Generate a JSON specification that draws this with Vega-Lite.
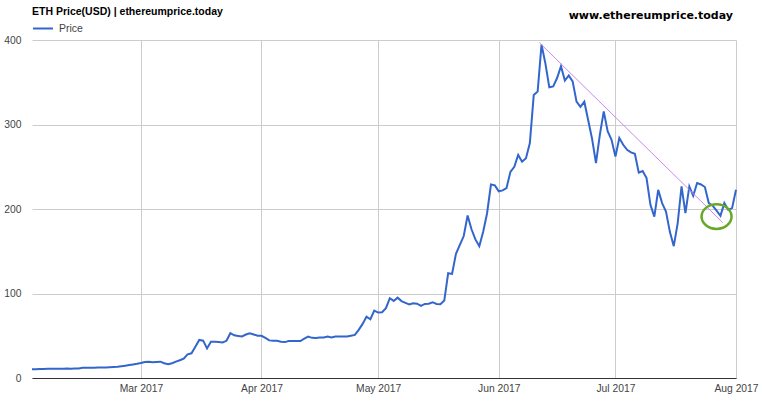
{
  "$schema": "https://vega.github.io/schema/vega-lite/v6.json",
  "width": 704,
  "height": 338,
  "autosize": "none",
  "padding": {"left": 32, "top": 40, "right": 26, "bottom": 24},
  "background": "white",
  "config": {"view": {"stroke": null}, "font": "Liberation Sans"},
  "title": {
    "text": "www.ethereumprice.today",
    "anchor": "end",
    "frame": "group",
    "baseline": "alphabetic",
    "offset": 0,
    "dy": 23,
    "dx": -3,
    "font": "DejaVu Sans",
    "fontSize": 11,
    "fontWeight": "bold",
    "color": "#000000"
  },
  "datasets": {
    "eth": [
      {"date": "2017-02-01", "price": 10.3},
      {"date": "2017-02-02", "price": 10.5},
      {"date": "2017-02-03", "price": 10.6},
      {"date": "2017-02-04", "price": 10.7},
      {"date": "2017-02-05", "price": 10.8},
      {"date": "2017-02-06", "price": 10.9},
      {"date": "2017-02-07", "price": 11.0},
      {"date": "2017-02-08", "price": 11.0},
      {"date": "2017-02-09", "price": 11.0},
      {"date": "2017-02-10", "price": 11.1},
      {"date": "2017-02-11", "price": 11.0},
      {"date": "2017-02-12", "price": 11.1},
      {"date": "2017-02-13", "price": 11.2},
      {"date": "2017-02-14", "price": 12.0},
      {"date": "2017-02-15", "price": 12.1},
      {"date": "2017-02-16", "price": 12.2},
      {"date": "2017-02-17", "price": 12.2},
      {"date": "2017-02-18", "price": 12.3},
      {"date": "2017-02-19", "price": 12.3},
      {"date": "2017-02-20", "price": 12.5},
      {"date": "2017-02-21", "price": 12.7},
      {"date": "2017-02-22", "price": 13.0},
      {"date": "2017-02-23", "price": 13.4},
      {"date": "2017-02-24", "price": 14.0},
      {"date": "2017-02-25", "price": 14.6},
      {"date": "2017-02-26", "price": 15.3},
      {"date": "2017-02-27", "price": 16.0},
      {"date": "2017-02-28", "price": 16.8},
      {"date": "2017-03-01", "price": 17.8},
      {"date": "2017-03-02", "price": 19.0},
      {"date": "2017-03-03", "price": 19.3},
      {"date": "2017-03-04", "price": 18.6},
      {"date": "2017-03-05", "price": 19.0},
      {"date": "2017-03-06", "price": 19.3},
      {"date": "2017-03-07", "price": 17.5},
      {"date": "2017-03-08", "price": 16.2},
      {"date": "2017-03-09", "price": 17.5},
      {"date": "2017-03-10", "price": 19.3},
      {"date": "2017-03-11", "price": 21.0},
      {"date": "2017-03-12", "price": 23.0},
      {"date": "2017-03-13", "price": 28.0},
      {"date": "2017-03-14", "price": 29.2},
      {"date": "2017-03-15", "price": 37.0},
      {"date": "2017-03-16", "price": 45.0},
      {"date": "2017-03-17", "price": 44.2},
      {"date": "2017-03-18", "price": 35.0},
      {"date": "2017-03-19", "price": 43.0},
      {"date": "2017-03-20", "price": 42.8},
      {"date": "2017-03-21", "price": 42.5},
      {"date": "2017-03-22", "price": 42.0},
      {"date": "2017-03-23", "price": 44.0},
      {"date": "2017-03-24", "price": 53.0},
      {"date": "2017-03-25", "price": 50.5},
      {"date": "2017-03-26", "price": 49.8},
      {"date": "2017-03-27", "price": 49.2},
      {"date": "2017-03-28", "price": 51.5},
      {"date": "2017-03-29", "price": 53.0},
      {"date": "2017-03-30", "price": 51.5},
      {"date": "2017-03-31", "price": 50.1},
      {"date": "2017-04-01", "price": 50.0},
      {"date": "2017-04-02", "price": 47.5},
      {"date": "2017-04-03", "price": 44.5},
      {"date": "2017-04-04", "price": 44.0},
      {"date": "2017-04-05", "price": 44.1},
      {"date": "2017-04-06", "price": 42.8},
      {"date": "2017-04-07", "price": 42.5},
      {"date": "2017-04-08", "price": 43.8},
      {"date": "2017-04-09", "price": 43.8},
      {"date": "2017-04-10", "price": 43.8},
      {"date": "2017-04-11", "price": 43.8},
      {"date": "2017-04-12", "price": 46.5},
      {"date": "2017-04-13", "price": 49.0},
      {"date": "2017-04-14", "price": 47.5},
      {"date": "2017-04-15", "price": 47.4},
      {"date": "2017-04-16", "price": 47.8},
      {"date": "2017-04-17", "price": 48.0},
      {"date": "2017-04-18", "price": 49.0},
      {"date": "2017-04-19", "price": 48.0},
      {"date": "2017-04-20", "price": 49.0},
      {"date": "2017-04-21", "price": 49.0},
      {"date": "2017-04-22", "price": 49.0},
      {"date": "2017-04-23", "price": 49.0},
      {"date": "2017-04-24", "price": 50.0},
      {"date": "2017-04-25", "price": 51.0},
      {"date": "2017-04-26", "price": 57.0},
      {"date": "2017-04-27", "price": 64.0},
      {"date": "2017-04-28", "price": 72.6},
      {"date": "2017-04-29", "price": 69.5},
      {"date": "2017-04-30", "price": 79.7},
      {"date": "2017-05-01", "price": 77.4},
      {"date": "2017-05-02", "price": 77.8},
      {"date": "2017-05-03", "price": 82.6},
      {"date": "2017-05-04", "price": 94.4},
      {"date": "2017-05-05", "price": 91.2},
      {"date": "2017-05-06", "price": 95.1},
      {"date": "2017-05-07", "price": 91.0},
      {"date": "2017-05-08", "price": 89.0},
      {"date": "2017-05-09", "price": 87.0},
      {"date": "2017-05-10", "price": 88.5},
      {"date": "2017-05-11", "price": 88.0},
      {"date": "2017-05-12", "price": 85.3},
      {"date": "2017-05-13", "price": 87.7},
      {"date": "2017-05-14", "price": 88.0},
      {"date": "2017-05-15", "price": 89.7},
      {"date": "2017-05-16", "price": 87.7},
      {"date": "2017-05-17", "price": 87.3},
      {"date": "2017-05-18", "price": 91.6},
      {"date": "2017-05-19", "price": 124.0},
      {"date": "2017-05-20", "price": 123.2},
      {"date": "2017-05-21", "price": 147.0},
      {"date": "2017-05-22", "price": 157.6},
      {"date": "2017-05-23", "price": 168.0},
      {"date": "2017-05-24", "price": 192.3},
      {"date": "2017-05-25", "price": 176.0},
      {"date": "2017-05-26", "price": 164.0},
      {"date": "2017-05-27", "price": 156.0},
      {"date": "2017-05-28", "price": 173.0},
      {"date": "2017-05-29", "price": 195.0},
      {"date": "2017-05-30", "price": 229.0},
      {"date": "2017-05-31", "price": 228.0},
      {"date": "2017-06-01", "price": 221.0},
      {"date": "2017-06-02", "price": 222.0},
      {"date": "2017-06-03", "price": 224.8},
      {"date": "2017-06-04", "price": 244.0},
      {"date": "2017-06-05", "price": 250.0},
      {"date": "2017-06-06", "price": 264.0},
      {"date": "2017-06-07", "price": 256.0},
      {"date": "2017-06-08", "price": 260.0},
      {"date": "2017-06-09", "price": 278.0},
      {"date": "2017-06-10", "price": 335.0},
      {"date": "2017-06-11", "price": 339.0},
      {"date": "2017-06-12", "price": 394.5},
      {"date": "2017-06-13", "price": 372.0},
      {"date": "2017-06-14", "price": 344.0},
      {"date": "2017-06-15", "price": 345.0},
      {"date": "2017-06-16", "price": 355.0},
      {"date": "2017-06-17", "price": 369.0},
      {"date": "2017-06-18", "price": 352.0},
      {"date": "2017-06-19", "price": 358.0},
      {"date": "2017-06-20", "price": 351.0},
      {"date": "2017-06-21", "price": 327.0},
      {"date": "2017-06-22", "price": 321.0},
      {"date": "2017-06-23", "price": 327.0},
      {"date": "2017-06-24", "price": 305.0},
      {"date": "2017-06-25", "price": 283.0},
      {"date": "2017-06-26", "price": 254.4},
      {"date": "2017-06-27", "price": 288.0},
      {"date": "2017-06-28", "price": 315.5},
      {"date": "2017-06-29", "price": 292.0},
      {"date": "2017-06-30", "price": 282.0},
      {"date": "2017-07-01", "price": 262.0},
      {"date": "2017-07-02", "price": 284.0},
      {"date": "2017-07-03", "price": 276.0},
      {"date": "2017-07-04", "price": 270.0},
      {"date": "2017-07-05", "price": 267.0},
      {"date": "2017-07-06", "price": 265.4},
      {"date": "2017-07-07", "price": 243.0},
      {"date": "2017-07-08", "price": 245.0},
      {"date": "2017-07-09", "price": 236.6},
      {"date": "2017-07-10", "price": 205.0},
      {"date": "2017-07-11", "price": 191.0},
      {"date": "2017-07-12", "price": 222.7},
      {"date": "2017-07-13", "price": 207.0},
      {"date": "2017-07-14", "price": 197.0},
      {"date": "2017-07-15", "price": 173.0},
      {"date": "2017-07-16", "price": 156.0},
      {"date": "2017-07-17", "price": 183.0},
      {"date": "2017-07-18", "price": 226.7},
      {"date": "2017-07-19", "price": 195.0},
      {"date": "2017-07-20", "price": 226.7},
      {"date": "2017-07-21", "price": 215.6},
      {"date": "2017-07-22", "price": 230.7},
      {"date": "2017-07-23", "price": 229.0},
      {"date": "2017-07-24", "price": 226.0},
      {"date": "2017-07-25", "price": 207.0},
      {"date": "2017-07-26", "price": 204.0},
      {"date": "2017-07-27", "price": 198.0},
      {"date": "2017-07-28", "price": 191.9},
      {"date": "2017-07-29", "price": 207.0},
      {"date": "2017-07-30", "price": 199.0},
      {"date": "2017-07-31", "price": 201.0},
      {"date": "2017-08-01", "price": 222.7}
    ],
    "trend": [
      {"date": "2017-06-11T10:00:00Z", "price": 397},
      {"date": "2017-07-28T14:00:00Z", "price": 184}
    ],
    "circle": [
      {"date": "2017-07-27T00:00:00Z", "price": 191}
    ]
  },
  "encoding": {
    "x": {
      "field": "date",
      "type": "temporal",
      "scale": {
        "type": "utc",
        "domain": [
          {"year": 2017, "month": 2, "date": 1, "utc": true},
          {"year": 2017, "month": 8, "date": 1, "utc": true}
        ]
      },
      "axis": {
        "title": null,
        "values": [
          {"year": 2017, "month": 3, "date": 1, "utc": true},
          {"year": 2017, "month": 4, "date": 1, "utc": true},
          {"year": 2017, "month": 5, "date": 1, "utc": true},
          {"year": 2017, "month": 6, "date": 1, "utc": true},
          {"year": 2017, "month": 7, "date": 1, "utc": true},
          {"year": 2017, "month": 8, "date": 1, "utc": true}
        ],
        "labelExpr": "utcFormat(datum.value, '%b %Y')",
        "grid": true,
        "gridColor": "#cccccc",
        "ticks": false,
        "labelPadding": 5,
        "labelFont": "Liberation Sans",
        "labelFontSize": 10.3,
        "labelColor": "#444444",
        "labelFlush": false,
        "labelOverlap": false,
        "domainColor": "#333333"
      }
    },
    "y": {
      "field": "price",
      "type": "quantitative",
      "scale": {"domain": [0, 400], "nice": false},
      "axis": {
        "title": null,
        "values": [0, 100, 200, 300, 400],
        "grid": true,
        "gridColor": "#cccccc",
        "domain": false,
        "ticks": false,
        "labelPadding": 11,
        "labelFont": "Liberation Sans",
        "labelFontSize": 10.3,
        "labelColor": "#444444"
      }
    }
  },
  "layer": [
    {
      "data": {"name": "eth"},
      "mark": {"type": "line", "strokeWidth": 2},
      "encoding": {
        "color": {
          "datum": "Price",
          "scale": {"range": ["#3366cc"]},
          "legend": {
            "orient": "none",
            "legendX": 0,
            "legendY": -33,
            "padding": 0,
            "title": "ETH Price(USD) | ethereumprice.today",
            "titleFont": "Liberation Sans",
            "titleFontSize": 10.5,
            "titleFontWeight": "bold",
            "titleColor": "#000000",
            "titleLimit": 400,
            "titlePadding": 0,
            "labelFont": "Liberation Sans",
            "labelFontSize": 10.5,
            "labelColor": "#444444",
            "labelOffset": 5,
            "symbolType": "stroke",
            "symbolStrokeWidth": 2,
            "symbolSize": 400
          }
        }
      }
    },
    {
      "data": {"name": "trend"},
      "mark": {"type": "line", "color": "#cc88ee", "strokeWidth": 1}
    },
    {
      "data": {"name": "circle"},
      "mark": {
        "type": "point",
        "shape": "M1,0C1,0.4529,0.5523,0.82,0,0.82C-0.5523,0.82,-1,0.4529,-1,0C-1,-0.4529,-0.5523,-0.82,0,-0.82C0.5523,-0.82,1,-0.4529,1,0Z",
        "size": 900,
        "filled": false,
        "stroke": "#66a828",
        "strokeWidth": 2.5,
        "opacity": 1
      }
    }
  ]
}
